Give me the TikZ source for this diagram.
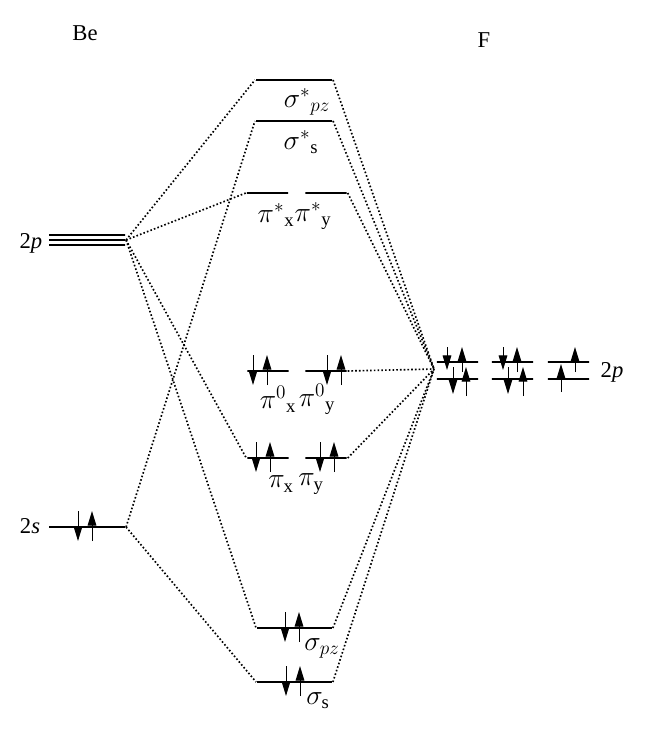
\documentclass[tikz,border=0pt]{standalone}
\usepackage{fontspec}
\setmainfont{Liberation Serif}
\usetikzlibrary{positioning,calc,arrows.meta}

\begin{document}
\begin{tikzpicture}[
    x=0.75pt, y=-0.75pt,
    level/.style={rectangle, inner sep=0pt, minimum height=0pt, minimum width=#1, draw=black, line width=1.6pt},
    level/.default={57pt},
    link/.style={line width=1.25pt, dash pattern=on 1.2pt off 1.6pt},
    spin/.style={line width=0.75pt, -{Triangle[length=11pt, width=6.5pt]}},
    lbl/.style={inner sep=0pt, font=\fontsize{17}{20}\selectfont},
    mo/.style={inner sep=0pt, font=\fontsize{20}{23}\selectfont},
    ]
    \useasboundingbox (0,0) rectangle (669,733);

    %%% atom titles %%%
    \node[lbl] (be) at (85,33) {Be};
    \node[lbl] (f)  at (484,40) {F};

    %% Be atomic levels
    \node[level] (be2pa) at (87,235) {};
    \node[level] (be2pb) at (87,240) {};
    \node[level] (be2pc) at (87,245) {};
    \node[level] (be2s)  at (87,527) {};
    \node[lbl] (be2plbl) at (31,243) {2\textit{p}};
    \node[lbl] (be2slbl) at (30,526) {2\textit{s}};

    %% molecular levels
    \node[level] (sspz) at (294,80) {};
    \node[level] (sss)  at (294,121) {};
    \node[level=31pt] (pisx) at (267.5,193) {};
    \node[level=31pt] (pisy) at (326,193) {};
    \node[level=31pt] (pinx) at (268,371) {};
    \node[level=31pt] (piny) at (326,371) {};
    \node[level=31pt] (pix)  at (268,458) {};
    \node[level=31pt] (piy)  at (326,458) {};
    \node[level=56pt] (spz)  at (294.5,628) {};
    \node[level=56pt] (ss)   at (294.5,682) {};

    %% molecular labels
    \node[mo] (sspzlbl) at (307,102) {$\sigma^{*}{}_{pz}$};
    \node[mo] (ssslbl)  at (301,142) {$\sigma^{*}{}_{\mathrm{s}}$};
    \node[mo] (pisxlbl) at (276,215) {$\pi^{*}{}_{\mathrm{x}}$};
    \node[mo] (pisylbl) at (313,216) {$\pi^{*}{}_{\mathrm{y}}$};
    \node[mo] (pinxlbl) at (278,399) {$\pi^{0}{}_{\mathrm{x}}$};
    \node[mo] (pinylbl) at (317,399) {$\pi^{0}{}_{\mathrm{y}}$};
    \node[mo] (pixlbl)  at (281,484) {$\pi_{\mathrm{x}}$};
    \node[mo] (piylbl)  at (311,484) {$\pi_{\mathrm{y}}$};
    \node[mo] (spzlbl)  at (322,648) {$\sigma_{pz}$};
    \node[mo] (sslbl)   at (318,701) {$\sigma_{\mathrm{s}}$};

    %% F atomic levels
    \node[level=31pt] (fa1) at (457.5,362) {};
    \node[level=31pt] (fa2) at (457.5,379) {};
    \node[level=31pt] (fb1) at (512.5,362) {};
    \node[level=31pt] (fb2) at (512.5,379) {};
    \node[level=31pt] (fc1) at (568.5,362) {};
    \node[level=31pt] (fc2) at (568.5,379) {};
    \node[lbl] (f2plbl) at (612,372) {2\textit{p}};
    \coordinate (f2p) at (434,369);

    %%% electrons %%%
    % paired levels
    \foreach \x/\y in {78/527, 253/371, 327/371, 256/458, 320/458, 285/628, 286/682} {
        \draw[spin] (\x,\y-16) -- (\x,\y+14);
        \draw[spin] (\x+14,\y+14) -- (\x+14,\y-16);
    }
    % F 2p
    \draw[spin] (447,347) -- (447,370);
    \draw[spin] (462,372) -- (462,347);
    \draw[spin] (453,367) -- (453,394);
    \draw[spin] (466,396) -- (466,367);
    \draw[spin] (503,347) -- (503,370);
    \draw[spin] (517,372) -- (517,347);
    \draw[spin] (508,367) -- (508,394);
    \draw[spin] (523,396) -- (523,367);
    \draw[spin] (575,372) -- (575,347);
    \draw[spin] (561,392) -- (561,364);

    %%% correlation lines %%%
    %% from Be
    \draw[link] (be2pb.east) -- (sspz.west);
    \draw[link] (be2pb.east) -- (pisx.west);
    \draw[link] (be2pb.east) -- (pix.west);
    \draw[link] (be2pb.east) -- (spz.west);
    \draw[link] (be2s.east) -- (sss.west);
    \draw[link] (be2s.east) -- (ss.west);
    %% from F
    \draw[link] (sspz.east) -- (f2p);
    \draw[link] (sss.east) -- (f2p);
    \draw[link] (pisy.east) -- (f2p);
    \draw[link] (piny.east) -- (f2p);
    \draw[link] (piy.east) -- (f2p);
    \draw[link] (spz.east) -- (f2p);
    \draw[link] (ss.east) -- (f2p);

\end{tikzpicture}
\end{document}
